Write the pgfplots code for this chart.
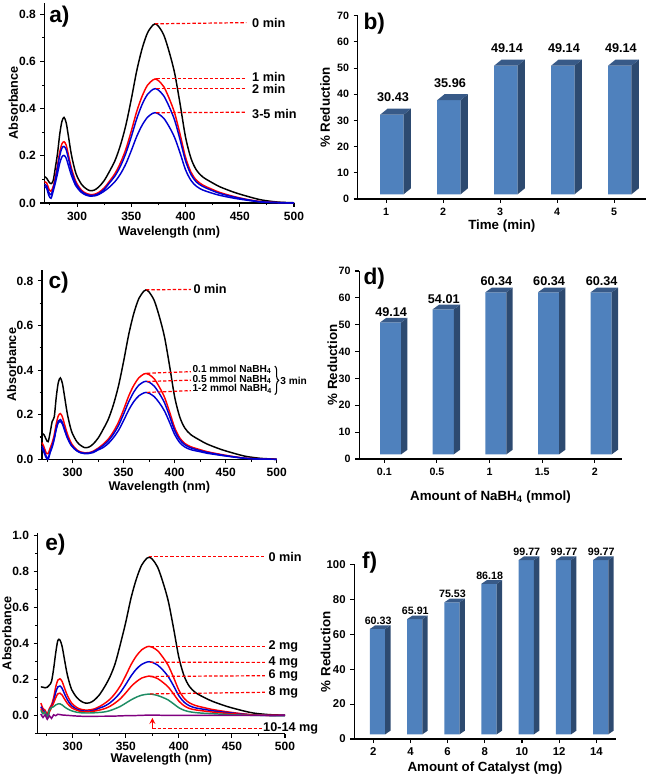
\documentclass[border=0pt]{standalone}
\usepackage{fontspec}
\setmainfont{Liberation Sans}
\usepackage{pgfplots}
\pgfplotsset{compat=1.18}
\usepackage{pgfplotstable}
\usetikzlibrary{decorations.pathreplacing}

\definecolor{barfront}{RGB}{79,129,189}
\definecolor{barside}{RGB}{45,74,112}
\definecolor{bartop}{RGB}{56,90,136}
\definecolor{cblue}{RGB}{0,0,210}
\definecolor{cred}{RGB}{255,0,0}
\definecolor{cgreen}{RGB}{30,140,100}
\definecolor{cpurple}{RGB}{128,0,128}

\newcommand\lab{\bfseries\fontsize{9.5}{11}\selectfont}
\newcommand\labs{\bfseries\fontsize{7.6}{9}\selectfont}
\newcommand\vlab{\bfseries\fontsize{9.5}{11}\selectfont}

\tikzset{
  spc/.style={smooth, tension=0.5, line width=1.1pt, mark=none},
  ann/.style={cred, line width=0.9pt, dash pattern=on 2.5pt off 1.5pt},
  lbl/.style={anchor=west, inner sep=1pt, font=\lab},
  side/.style={fill=barside, draw=none, yshift=3.5pt},
  top/.style={fill=bartop, draw=none, yshift=3.5pt},
  plet/.style={anchor=west, inner sep=0pt, font=\bfseries\fontsize{17}{19}\selectfont},
}

\pgfplotsset{
  common/.style={
    scale only axis, axis lines=left, axis line style={-, line width=1pt},
    tick align=outside, major tick length=3pt, minor tick length=1.8pt,
    tick style={black, line width=0.8pt},
    /pgf/number format/assume math mode=true,
    clip=false, anchor=south west,
  },
  spec/.style={common,
    tick label style={font=\bfseries\fontsize{9}{10}\selectfont},
    label style={font=\bfseries\fontsize{9.5}{11}\selectfont},
    xmin=270, xmax=500, xtick={300,350,...,500}, minor xtick={275,325,...,475},
    y tick label style={/pgf/number format/fixed, /pgf/number format/fixed zerofill, /pgf/number format/precision=1},
    xlabel={Wavelength (nm)}, ylabel={Absorbance},
  },
  barax/.style={common,
    tick label style={font=\bfseries\fontsize{8}{9}\selectfont},
    label style={font=\bfseries\fontsize{10}{11}\selectfont},
    ylabel={\% Reduction}, ymin=0,
  },
}

\pgfplotstableread{
x k r1 b2 b3
270 0.112 0.090 0.080 0.070
272 0.105 0.085 0.072 0.062
274 0.090 0.060 0.045 0.032
276 0.082 0.050 0.035 0.020
278 0.095 0.070 0.060 0.050
280 0.150 0.110 0.100 0.085
282 0.210 0.160 0.150 0.125
284 0.290 0.215 0.200 0.168
286 0.345 0.250 0.232 0.195
288 0.363 0.260 0.240 0.202
290 0.340 0.245 0.226 0.190
292 0.285 0.205 0.190 0.160
295 0.200 0.145 0.133 0.115
299 0.125 0.090 0.082 0.072
304 0.080 0.055 0.050 0.045
308 0.062 0.042 0.038 0.034
312 0.052 0.036 0.032 0.029
316 0.055 0.037 0.033 0.030
320 0.068 0.045 0.040 0.036
325 0.095 0.064 0.058 0.050
330 0.135 0.093 0.086 0.068
335 0.180 0.125 0.115 0.091
340 0.245 0.170 0.156 0.123
345 0.330 0.228 0.211 0.166
350 0.440 0.305 0.281 0.222
355 0.560 0.388 0.357 0.282
360 0.655 0.453 0.418 0.330
365 0.722 0.500 0.461 0.364
370 0.755 0.522 0.482 0.381
372 0.760 0.526 0.485 0.383
375 0.750 0.519 0.479 0.378
380 0.712 0.493 0.454 0.359
385 0.640 0.443 0.408 0.323
390 0.550 0.381 0.351 0.277
395 0.420 0.291 0.268 0.212
400 0.280 0.194 0.179 0.141
405 0.190 0.131 0.121 0.096
410 0.140 0.097 0.089 0.071
416 0.110 0.076 0.070 0.055
425 0.085 0.057 0.052 0.041
432 0.068 0.044 0.040 0.032
445 0.045 0.027 0.025 0.020
458 0.027 0.014 0.013 0.011
470 0.013 0.006 0.005 0.004
485 0.004 0.002 0.002 0.001
500 0.001 0.000 0.000 0.000
}\tabA

\pgfplotstableread{
x k r b1 b2
270 0.117 0.075 0.060 0.050
272 0.110 0.055 0.040 0.030
274 0.090 0.030 0.015 0.008
276 0.079 0.025 0.005 0.000
278 0.120 0.050 0.035 0.030
280 0.170 0.075 0.060 0.055
282 0.190 0.110 0.095 0.090
284 0.280 0.160 0.140 0.135
286 0.345 0.195 0.172 0.165
288 0.365 0.205 0.178 0.170
290 0.340 0.190 0.165 0.158
292 0.285 0.158 0.138 0.132
295 0.200 0.112 0.098 0.094
299 0.125 0.070 0.062 0.060
304 0.080 0.043 0.040 0.038
308 0.062 0.033 0.030 0.029
312 0.052 0.029 0.027 0.025
316 0.055 0.030 0.028 0.026
320 0.068 0.036 0.033 0.030
325 0.095 0.050 0.046 0.042
330 0.135 0.068 0.062 0.053
335 0.180 0.091 0.083 0.071
340 0.245 0.124 0.113 0.097
345 0.330 0.167 0.152 0.130
350 0.440 0.223 0.203 0.174
355 0.560 0.284 0.258 0.221
360 0.655 0.332 0.302 0.259
365 0.722 0.366 0.333 0.285
370 0.755 0.383 0.348 0.298
372 0.760 0.385 0.350 0.300
375 0.750 0.380 0.346 0.296
380 0.712 0.361 0.328 0.281
385 0.640 0.324 0.295 0.253
390 0.550 0.279 0.254 0.217
395 0.420 0.213 0.194 0.166
400 0.280 0.142 0.129 0.111
405 0.190 0.096 0.088 0.075
410 0.140 0.071 0.065 0.055
416 0.110 0.056 0.051 0.043
425 0.085 0.043 0.039 0.034
432 0.068 0.034 0.031 0.027
445 0.045 0.022 0.020 0.018
458 0.027 0.012 0.011 0.010
470 0.013 0.005 0.004 0.004
485 0.004 0.002 0.001 0.001
500 0.001 0.000 0.000 0.000
}\tabC

\pgfplotstableread{
x k r2 b4 r6 g8 p
270 0.160 0.070 0.050 0.040 0.030 0.010
272 0.158 0.040 0.030 0.020 0.010 -0.010
274 0.155 0.030 0.020 0.015 0.020 0.005
276 0.158 0.010 -0.005 -0.010 -0.015 -0.020
278 0.170 0.040 0.030 0.020 0.030 0.000
280 0.190 0.060 0.050 0.045 0.045 -0.015
282 0.260 0.100 0.080 0.070 0.050 0.005
284 0.350 0.160 0.130 0.100 0.060 0.000
286 0.418 0.198 0.160 0.122 0.065 0.008
288 0.420 0.205 0.165 0.125 0.066 0.006
290 0.385 0.190 0.152 0.115 0.060 0.004
292 0.320 0.158 0.125 0.095 0.050 0.003
295 0.225 0.112 0.088 0.068 0.038 0.002
299 0.145 0.070 0.055 0.044 0.027 0.000
304 0.100 0.045 0.036 0.030 0.019 -0.002
308 0.080 0.035 0.028 0.023 0.016 -0.003
312 0.070 0.031 0.025 0.021 0.015 -0.004
316 0.072 0.032 0.026 0.022 0.015 -0.004
320 0.085 0.037 0.030 0.025 0.016 -0.004
325 0.115 0.050 0.042 0.031 0.018 -0.003
330 0.160 0.068 0.053 0.039 0.021 -0.003
335 0.215 0.091 0.071 0.052 0.028 -0.002
340 0.290 0.124 0.097 0.071 0.039 -0.002
345 0.400 0.167 0.130 0.095 0.052 -0.001
350 0.520 0.223 0.174 0.127 0.070 0.000
355 0.655 0.284 0.221 0.162 0.088 0.000
360 0.760 0.332 0.259 0.189 0.103 0.001
365 0.837 0.366 0.285 0.209 0.114 0.002
370 0.875 0.383 0.298 0.218 0.119 0.003
372 0.880 0.385 0.300 0.220 0.120 0.003
375 0.869 0.380 0.296 0.217 0.119 0.003
380 0.825 0.361 0.281 0.206 0.112 0.003
385 0.741 0.324 0.253 0.185 0.101 0.002
390 0.637 0.279 0.217 0.159 0.087 0.002
395 0.486 0.213 0.166 0.121 0.066 0.002
400 0.324 0.142 0.111 0.081 0.044 0.002
405 0.220 0.096 0.075 0.055 0.030 0.002
410 0.162 0.071 0.055 0.040 0.022 0.002
416 0.127 0.056 0.043 0.032 0.017 0.002
425 0.098 0.043 0.034 0.025 0.013 0.002
432 0.079 0.034 0.027 0.020 0.011 0.002
445 0.052 0.022 0.018 0.013 0.007 0.002
458 0.031 0.012 0.010 0.008 0.004 0.002
470 0.015 0.005 0.004 0.004 0.002 0.002
485 0.006 0.002 0.001 0.002 0.001 0.002
500 0.003 0.001 0.001 0.001 0.000 0.003
}\tabE

\begin{document}
\begin{tikzpicture}
\useasboundingbox (0,0) rectangle (485.25pt,583.5pt);

% ---------------- a) ----------------
\begin{axis}[spec, at={(33.375pt,431.25pt)}, width=187.125pt, height=150.3pt,
  ymin=0, ymax=0.85, ytick={0,0.2,0.4,0.6,0.8}, minor ytick={0.1,0.3,0.5,0.7},
  xlabel style={at={(axis description cs:0.5,-0.145)}, anchor=center},
  ylabel style={at={(axis description cs:-0.125,0.5)}, anchor=center}]
\addplot[spc, black] table[x=x, y=k] {\tabA};
\addplot[spc, cred] table[x=x, y=r1] {\tabA};
\addplot[spc, cblue] table[x=x, y=b2] {\tabA};
\addplot[spc, cblue] table[x=x, y=b3] {\tabA};
\addplot[ann] coordinates {(372,0.760) (456,0.765)};
\addplot[ann] coordinates {(373,0.527) (456,0.527)};
\addplot[ann] coordinates {(373,0.486) (456,0.486)};
\addplot[ann] coordinates {(373,0.383) (456,0.385)};
\node[lbl] at (axis cs:460,0.765) {0 min};
\node[lbl] at (axis cs:460,0.535) {1 min};
\node[lbl] at (axis cs:460,0.482) {2 min};
\node[lbl] at (axis cs:460,0.378) {3-5 min};
\end{axis}

% ---------------- b) ----------------
\begin{axis}[barax, at={(268.275pt,434.25pt)}, width=216.225pt, height=137.475pt,
  xmin=0.5, xmax=5.56, ymax=70, ytick={0,10,...,70}, xtick={1,2,3,4,5},
  xlabel={Time (min)},
  xlabel style={at={(axis description cs:0.5,-0.147)}, anchor=center},
  ylabel style={at={(axis description cs:-0.113,0.5)}, anchor=center}]
\addplot[ybar, bar width=0.41, bar shift=0.1, fill=barfront, draw=none, yshift=3.5pt]
  coordinates {(1,30.43) (2,35.96) (3,49.14) (4,49.14) (5,49.14)};
\addplot[side] coordinates {(1.305,0) (1.435,2.3) (1.435,32.73) (1.305,30.43)};
\addplot[side] coordinates {(2.305,0) (2.435,2.3) (2.435,38.26) (2.305,35.96)};
\addplot[side] coordinates {(3.305,0) (3.435,2.3) (3.435,51.44) (3.305,49.14)};
\addplot[side] coordinates {(4.305,0) (4.435,2.3) (4.435,51.44) (4.305,49.14)};
\addplot[side] coordinates {(5.305,0) (5.435,2.3) (5.435,51.44) (5.305,49.14)};
\addplot[top] coordinates {(0.895,30.43) (1.305,30.43) (1.435,32.73) (1.025,32.73)};
\addplot[top] coordinates {(1.895,35.96) (2.305,35.96) (2.435,38.26) (2.025,38.26)};
\addplot[top] coordinates {(2.895,49.14) (3.305,49.14) (3.435,51.44) (3.025,51.44)};
\addplot[top] coordinates {(3.895,49.14) (4.305,49.14) (4.435,51.44) (4.025,51.44)};
\addplot[top] coordinates {(4.895,49.14) (5.305,49.14) (5.435,51.44) (5.025,51.44)};
\node[font=\vlab] at (axis cs:1.12,38.73) {30.43};
\node[font=\vlab] at (axis cs:2.12,44.26) {35.96};
\node[font=\vlab] at (axis cs:3.12,57.44) {49.14};
\node[font=\vlab] at (axis cs:4.12,57.44) {49.14};
\node[font=\vlab] at (axis cs:5.12,57.44) {49.14};
\end{axis}

% ---------------- c) ----------------
\begin{axis}[spec, at={(31.5pt,239.025pt)}, width=176.025pt, height=142.125pt,
  ymin=0, ymax=0.85, ytick={0,0.2,0.4,0.6,0.8}, minor ytick={0.1,0.3,0.5,0.7},
  xlabel style={at={(axis description cs:0.5,-0.145)}, anchor=center},
  ylabel style={at={(axis description cs:-0.13,0.5)}, anchor=center}]
\addplot[spc, black] table[x=x, y=k] {\tabC};
\addplot[spc, cred] table[x=x, y=r] {\tabC};
\addplot[spc, cblue] table[x=x, y=b1] {\tabC};
\addplot[spc, cblue] table[x=x, y=b2] {\tabC};
\addplot[ann] coordinates {(372,0.760) (416,0.762)};
\addplot[ann] coordinates {(373,0.386) (416,0.393)};
\addplot[ann] coordinates {(373,0.349) (416,0.355)};
\addplot[ann] coordinates {(373,0.300) (416,0.308)};
\node[lbl] at (axis cs:417,0.762) {0 min};
\node[lbl, font=\labs] at (axis cs:416,0.404) {0.1 mmol NaBH\textsubscript{4}};
\node[lbl, font=\labs] at (axis cs:416,0.360) {0.5 mmol NaBH\textsubscript{4}};
\node[lbl, font=\labs] at (axis cs:416,0.316) {1-2 mmol NaBH\textsubscript{4}};
\draw[line width=0.8pt, decorate, decoration={brace, amplitude=3pt}] (axis cs:498,0.418) -- (axis cs:498,0.290);
\node[lbl, font=\labs] at (axis cs:502,0.352) {3 min};
\end{axis}

% ---------------- d) ----------------
\begin{axis}[barax, at={(269.475pt,239.25pt)}, width=196.8pt, height=141pt,
  xmin=0.525, xmax=5.51, ymax=70, ytick={0,10,...,70}, xtick={1,2,3,4,5},
  xticklabels={0.1,0.5,1,1.5,2},
  xlabel={Amount of NaBH\textsubscript{4} (mmol)},
  xlabel style={at={(axis description cs:0.5,-0.2)}, anchor=center},
  ylabel style={at={(axis description cs:-0.103,0.5)}, anchor=center}]
\addplot[ybar, bar width=0.40, bar shift=0.12, fill=barfront, draw=none, yshift=3.5pt]
  coordinates {(1,49.14) (2,54.01) (3,60.34) (4,60.34) (5,60.34)};
\addplot[side] coordinates {(1.32,0) (1.44,1.7) (1.44,50.84) (1.32,49.14)};
\addplot[side] coordinates {(2.32,0) (2.44,1.7) (2.44,55.71) (2.32,54.01)};
\addplot[side] coordinates {(3.32,0) (3.44,1.7) (3.44,62.04) (3.32,60.34)};
\addplot[side] coordinates {(4.32,0) (4.44,1.7) (4.44,62.04) (4.32,60.34)};
\addplot[side] coordinates {(5.32,0) (5.44,1.7) (5.44,62.04) (5.32,60.34)};
\addplot[top] coordinates {(0.92,49.14) (1.32,49.14) (1.44,50.84) (1.04,50.84)};
\addplot[top] coordinates {(1.92,54.01) (2.32,54.01) (2.44,55.71) (2.04,55.71)};
\addplot[top] coordinates {(2.92,60.34) (3.32,60.34) (3.44,62.04) (3.04,62.04)};
\addplot[top] coordinates {(3.92,60.34) (4.32,60.34) (4.44,62.04) (4.04,62.04)};
\addplot[top] coordinates {(4.92,60.34) (5.32,60.34) (5.44,62.04) (5.04,62.04)};
\node[font=\vlab] at (axis cs:1.13,54.84) {49.14};
\node[font=\vlab] at (axis cs:2.13,59.71) {54.01};
\node[font=\vlab] at (axis cs:3.13,66.04) {60.34};
\node[font=\vlab] at (axis cs:4.13,66.04) {60.34};
\node[font=\vlab] at (axis cs:5.13,66.04) {60.34};
\end{axis}

% ---------------- e) ----------------
\begin{axis}[spec, at={(28.275pt,33.225pt)}, width=185.475pt, height=150.3pt,
  xmin=267, ymin=-0.1, ymax=1.013, ytick={0,0.2,0.4,0.6,0.8,1.0}, minor ytick={-0.1,0.1,0.3,0.5,0.7,0.9},
  xlabel style={at={(axis description cs:0.5,-0.13)}, anchor=center},
  ylabel style={at={(axis description cs:-0.125,0.5)}, anchor=center}]
\addplot[spc, black] table[x=x, y=k] {\tabE};
\addplot[spc, cred] table[x=x, y=r2] {\tabE};
\addplot[spc, cblue] table[x=x, y=b4] {\tabE};
\addplot[spc, cred] table[x=x, y=r6] {\tabE};
\addplot[spc, cgreen] table[x=x, y=g8] {\tabE};
\addplot[spc, cpurple] table[x=x, y=p] {\tabE};
\addplot[ann] coordinates {(372,0.883) (481,0.883)};
\addplot[ann] coordinates {(373,0.383) (481,0.383)};
\addplot[ann] coordinates {(373,0.297) (481,0.296)};
\addplot[ann] coordinates {(373,0.218) (481,0.222)};
\addplot[ann] coordinates {(373,0.121) (481,0.130)};
\addplot[ann] coordinates {(375,-0.070) (479,-0.070)};
\draw[cred, line width=1pt, -stealth] (axis cs:375,-0.072) -- (axis cs:375,-0.012);
\node[lbl] at (axis cs:483,0.883) {0 min};
\node[lbl] at (axis cs:483,0.383) {2 mg};
\node[lbl] at (axis cs:483,0.296) {4 mg};
\node[lbl] at (axis cs:483,0.222) {6 mg};
\node[lbl] at (axis cs:483,0.130) {8 mg};
\node[lbl] at (axis cs:478,-0.070) {10-14 mg};
\end{axis}

% ---------------- f) ----------------
\begin{axis}[barax, at={(265.725pt,29.25pt)}, width=196.05pt, height=131.025pt,
  tick label style={font=\bfseries\fontsize{8.5}{10}\selectfont},
  xmin=0.49, xmax=7.52, ymax=100, ytick={0,20,...,100}, xtick={1,...,7},
  xticklabels={2,4,6,8,10,12,14},
  xlabel={Amount of Catalyst (mg)},
  xlabel style={at={(axis description cs:0.5,-0.168)}, anchor=center},
  ylabel style={at={(axis description cs:-0.11,0.5)}, anchor=center}]
\addplot[ybar, bar width=0.41, bar shift=0.115, fill=barfront, draw=none, yshift=3.5pt]
  coordinates {(1,60.33) (2,65.91) (3,75.53) (4,86.18) (5,99.77) (6,99.77) (7,99.77)};
\addplot[side] coordinates {(1.32,0) (1.465,2.1) (1.465,62.43) (1.32,60.33)};
\addplot[side] coordinates {(2.32,0) (2.465,2.1) (2.465,68.01) (2.32,65.91)};
\addplot[side] coordinates {(3.32,0) (3.465,2.1) (3.465,77.63) (3.32,75.53)};
\addplot[side] coordinates {(4.32,0) (4.465,2.1) (4.465,88.28) (4.32,86.18)};
\addplot[side] coordinates {(5.32,0) (5.465,2.1) (5.465,101.87) (5.32,99.77)};
\addplot[side] coordinates {(6.32,0) (6.465,2.1) (6.465,101.87) (6.32,99.77)};
\addplot[side] coordinates {(7.32,0) (7.465,2.1) (7.465,101.87) (7.32,99.77)};
\addplot[top] coordinates {(0.91,60.33) (1.32,60.33) (1.465,62.43) (1.055,62.43)};
\addplot[top] coordinates {(1.91,65.91) (2.32,65.91) (2.465,68.01) (2.055,68.01)};
\addplot[top] coordinates {(2.91,75.53) (3.32,75.53) (3.465,77.63) (3.055,77.63)};
\addplot[top] coordinates {(3.91,86.18) (4.32,86.18) (4.465,88.28) (4.055,88.28)};
\addplot[top] coordinates {(4.91,99.77) (5.32,99.77) (5.465,101.87) (5.055,101.87)};
\addplot[top] coordinates {(5.91,99.77) (6.32,99.77) (6.465,101.87) (6.055,101.87)};
\addplot[top] coordinates {(6.91,99.77) (7.32,99.77) (7.465,101.87) (7.055,101.87)};
\node[font=\bfseries\fontsize{8}{9}\selectfont] at (axis cs:1.13,67.63) {60.33};
\node[font=\bfseries\fontsize{8}{9}\selectfont] at (axis cs:2.13,73.21) {65.91};
\node[font=\bfseries\fontsize{8}{9}\selectfont] at (axis cs:3.13,82.83) {75.53};
\node[font=\bfseries\fontsize{8}{9}\selectfont] at (axis cs:4.13,93.48) {86.18};
\node[font=\bfseries\fontsize{8}{9}\selectfont] at (axis cs:5.13,107.07) {99.77};
\node[font=\bfseries\fontsize{8}{9}\selectfont] at (axis cs:6.13,107.07) {99.77};
\node[font=\bfseries\fontsize{8}{9}\selectfont] at (axis cs:7.13,107.07) {99.77};
\end{axis}

% panel letters
\node[plet] at (36.75pt,570.75pt) {a)};
\node[plet] at (272.5pt,565.5pt) {b)};
\node[plet] at (36.2pt,371.25pt) {c)};
\node[plet] at (272.5pt,374.25pt) {d)};
\node[plet] at (33.75pt,174.75pt) {e)};
\node[plet] at (271.3pt,161.25pt) {f)};
\end{tikzpicture}
\end{document}
